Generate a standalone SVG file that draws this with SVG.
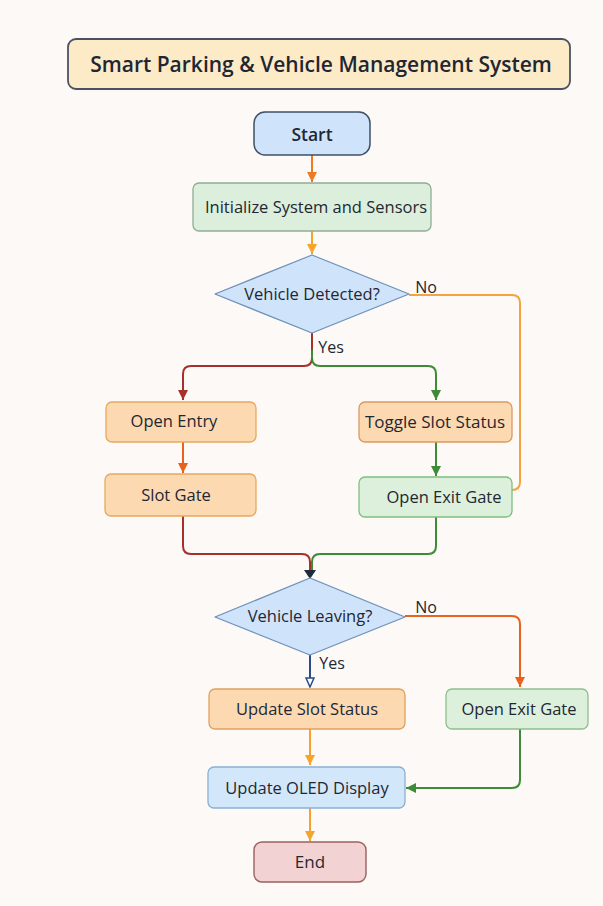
<svg xmlns="http://www.w3.org/2000/svg" width="603" height="906" viewBox="0 0 603 906">
<style>
text{font-family:"Open Sans","Noto Sans","Liberation Sans",sans-serif;fill:#1f2733;text-anchor:middle}
.lbl{font-size:16.5px}
.el{font-size:16px}
.ed{fill:none;stroke-width:2}
</style>
<defs>
<marker id="aO" markerWidth="11" markerHeight="11" refX="10" refY="5" orient="auto" markerUnits="userSpaceOnUse"><path d="M0,0 L10,5 L0,10z" fill="#f07a22"/></marker>
<marker id="aA" markerWidth="11" markerHeight="11" refX="10" refY="5" orient="auto" markerUnits="userSpaceOnUse"><path d="M0,0 L10,5 L0,10z" fill="#f5a52a"/></marker>
<marker id="aR" markerWidth="11" markerHeight="11" refX="10" refY="5" orient="auto" markerUnits="userSpaceOnUse"><path d="M0,0 L10,5 L0,10z" fill="#a8302c"/></marker>
<marker id="aE" markerWidth="11" markerHeight="11" refX="10" refY="5" orient="auto" markerUnits="userSpaceOnUse"><path d="M0,0 L10,5 L0,10z" fill="#e8621e"/></marker>
<marker id="aG" markerWidth="11" markerHeight="11" refX="10" refY="5" orient="auto" markerUnits="userSpaceOnUse"><path d="M0,0 L10,5 L0,10z" fill="#3d8b37"/></marker>
<marker id="aH" markerWidth="12" markerHeight="12" refX="10" refY="5" orient="auto" markerUnits="userSpaceOnUse"><path d="M1,1 L10,5 L1,9z" fill="#ffffff" stroke="#2a4a8a" stroke-width="1.5"/></marker>
</defs>
<rect width="603" height="906" fill="#fcf9f6"/>

<g id="title">
<rect x="68" y="39" width="502" height="50" rx="8" fill="#fdebc8" stroke="#4a5262" stroke-width="1.8"/>
<text x="321" y="72" style="font-size:21px;font-weight:600" fill="#2a2222">Smart Parking &amp; Vehicle Management System</text>
</g>

<g id="edges">
<path class="ed" d="M312,155 L312,182" stroke="#f07a22" marker-end="url(#aO)"/>
<path class="ed" d="M312,231 L312,254" stroke="#f5a52a" marker-end="url(#aA)"/>
<path class="ed" d="M312,333 L312,358 Q312,366 304,366 L191,366 Q183,366 183,374 L183,400" stroke="#a8302c" marker-end="url(#aR)"/>
<path class="ed" d="M312,350 L312,358 Q312,366 320,366 L428,366 Q436,366 436,374 L436,400" stroke="#3d8b37" marker-end="url(#aG)"/>
<path class="ed" d="M409,295 L512,295 Q520,295 520,303 L520,482 Q520,490 512,490" stroke="#f2a444"/>
<path class="ed" d="M183,442 L183,473" stroke="#e8621e" marker-end="url(#aE)"/>
<path class="ed" d="M436,442 L436,476" stroke="#3d8b37" marker-end="url(#aG)"/>
<path class="ed" d="M183,516 L183,546 Q183,554 191,554 L302,554 Q310,554 310,562 L310,574" stroke="#a8302c"/>
<path class="ed" d="M436,517 L436,546 Q436,554 428,554 L320,554 Q312,554 312,562 L312,574" stroke="#3d8b37"/>
<path d="M304,570 L316,570 L310,579z" fill="#1e2a40"/>
<path class="ed" d="M405,616 L512,616 Q520,616 520,624 L520,687" stroke="#e8621e" marker-end="url(#aE)"/>
<path class="ed" d="M310,655 L310,687" stroke="#2a4a8a" marker-end="url(#aH)"/>
<path class="ed" d="M310,729 L310,765" stroke="#f5a030" marker-end="url(#aA)"/>
<path class="ed" d="M520,729 L520,780 Q520,788 512,788 L406,788" stroke="#3d8b37" marker-end="url(#aG)"/>
<path class="ed" d="M310,808 L310,841" stroke="#f5a030" marker-end="url(#aA)"/>
<text x="426" y="293" class="el">No</text>
<text x="331" y="353" class="el">Yes</text>
<text x="426" y="613" class="el">No</text>
<text x="332" y="669" class="el">Yes</text>
</g>

<g id="start">
<rect x="254" y="112" width="116" height="43" rx="11" fill="#cfe4fa" stroke="#3d5068" stroke-width="1.5"/>
<text x="312" y="141" style="font-size:17.5px;font-weight:600">Start</text>
</g>
<g id="init">
<rect x="193" y="183" width="238" height="48" rx="6" fill="#dcefdc" stroke="#8fac94" stroke-width="1.3"/>
<text x="316" y="213" class="lbl">Initialize System and Sensors</text>
</g>
<g id="detected">
<path d="M312,255 L409,294 L312,333 L215,294z" fill="#cfe4fa" stroke="#6e90b8" stroke-width="1.3" stroke-linejoin="round"/>
<text x="312" y="300" class="lbl">Vehicle Detected?</text>
</g>
<g id="openEntry">
<rect x="106" y="402" width="150" height="40" rx="6" fill="#fcd9b0" stroke="#e6a860" stroke-width="1.3"/>
<text x="174" y="427" class="lbl">Open Entry</text>
</g>
<g id="slotGate">
<rect x="105" y="474" width="151" height="42" rx="6" fill="#fcd9b0" stroke="#e6a860" stroke-width="1.3"/>
<text x="176" y="501" class="lbl">Slot Gate</text>
</g>
<g id="toggle">
<rect x="359" y="402" width="153" height="40" rx="6" fill="#fcd9b0" stroke="#d89a60" stroke-width="1.3"/>
<text x="435" y="428" style="font-size:17px">Toggle Slot Status</text>
</g>
<g id="exitGate1">
<rect x="359" y="477" width="153" height="40" rx="6" fill="#dcf0dc" stroke="#7fbf80" stroke-width="1.3"/>
<text x="444" y="503" class="lbl">Open Exit Gate</text>
</g>
<g id="leaving">
<path d="M310,578 L405,617 L310,655 L215,617z" fill="#cfe4fa" stroke="#6e90b8" stroke-width="1.3" stroke-linejoin="round"/>
<text x="310" y="622" class="lbl">Vehicle Leaving?</text>
</g>
<g id="updateSlot">
<rect x="209" y="689" width="196" height="40" rx="6" fill="#fcd9b0" stroke="#e0a060" stroke-width="1.3"/>
<text x="307" y="715" class="lbl">Update Slot Status</text>
</g>
<g id="exitGate2">
<rect x="446" y="689" width="142" height="40" rx="6" fill="#dcf0dc" stroke="#8fbf90" stroke-width="1.3"/>
<text x="519" y="715" class="lbl">Open Exit Gate</text>
</g>
<g id="oled">
<rect x="208" y="767" width="197" height="41" rx="6" fill="#d2e7f9" stroke="#8ab0d4" stroke-width="1.3"/>
<text x="307" y="794" class="lbl">Update OLED Display</text>
</g>
<g id="end">
<rect x="254" y="842" width="112" height="40" rx="8" fill="#f2d2d2" stroke="#9a6060" stroke-width="1.4"/>
<text x="310" y="868" style="font-size:17px">End</text>
</g>
</svg>
